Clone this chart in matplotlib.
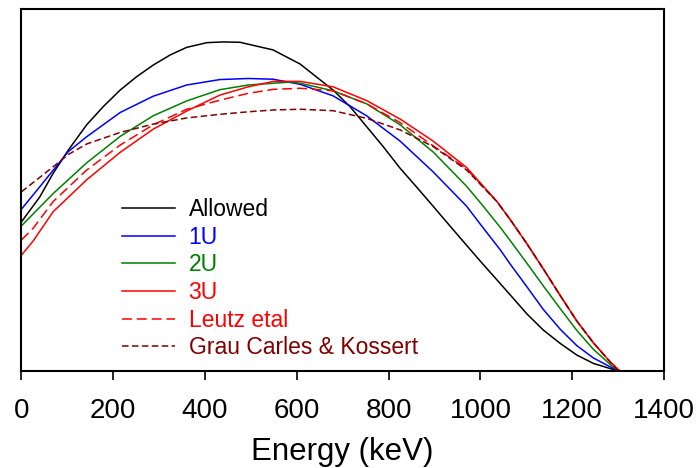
import matplotlib
matplotlib.use("Agg")
import matplotlib.pyplot as plt

plt.rcParams['font.family'] = ['Liberation Sans', 'DejaVu Sans']

# ---- data (y in arbitrary normalized units) ----
allowed_e = [0, 40, 69, 102, 142, 178, 215, 251, 287, 324, 360, 404, 440, 476, 548, 607, 650, 679, 716, 752, 788, 825, 861, 897, 934, 970, 1000, 1028, 1065, 1101, 1137, 1174, 1210, 1246, 1282, 1300]
allowed_y = [0.412, 0.481, 0.546, 0.61, 0.68, 0.73, 0.776, 0.813, 0.845, 0.873, 0.894, 0.907, 0.909, 0.908, 0.887, 0.848, 0.805, 0.776, 0.73, 0.675, 0.62, 0.56, 0.508, 0.455, 0.40, 0.347, 0.303, 0.263, 0.21, 0.158, 0.113, 0.076, 0.044, 0.021, 0.007, 0.0]

u1_e = [0, 40, 102, 142, 215, 287, 360, 432, 494, 548, 607, 679, 752, 825, 897, 970, 1000, 1043, 1065, 1101, 1137, 1174, 1210, 1246, 1282, 1300]
u1_y = [0.447, 0.509, 0.606, 0.647, 0.714, 0.759, 0.79, 0.805, 0.808, 0.806, 0.792, 0.76, 0.705, 0.635, 0.55, 0.455, 0.405, 0.335, 0.295, 0.233, 0.17, 0.115, 0.07, 0.036, 0.012, 0.0]

u2_e = [0, 69, 142, 215, 287, 360, 432, 494, 585, 607, 679, 752, 825, 897, 970, 1003, 1043, 1065, 1101, 1137, 1174, 1210, 1246, 1282, 1300]
u2_y = [0.401, 0.49, 0.575, 0.648, 0.705, 0.746, 0.777, 0.79, 0.798, 0.795, 0.774, 0.738, 0.68, 0.605, 0.51, 0.46, 0.397, 0.36, 0.298, 0.235, 0.172, 0.112, 0.06, 0.019, 0.0]

u3_e = [0, 26, 69, 142, 215, 287, 360, 432, 494, 549, 607, 679, 752, 825, 897, 970, 1036, 1065, 1101, 1137, 1174, 1210, 1246, 1282, 1304]
u3_y = [0.32, 0.36, 0.44, 0.528, 0.604, 0.668, 0.718, 0.762, 0.785, 0.80, 0.80, 0.785, 0.747, 0.696, 0.635, 0.562, 0.468, 0.418, 0.352, 0.282, 0.208, 0.138, 0.078, 0.026, 0.0]

leutz_e = [0, 26, 69, 142, 215, 287, 360, 432, 494, 549, 607, 679, 752, 825, 897, 970, 1036, 1065, 1101, 1137, 1174, 1210, 1246, 1282, 1304]
leutz_y = [0.362, 0.395, 0.468, 0.555, 0.624, 0.68, 0.723, 0.748, 0.767, 0.778, 0.781, 0.774, 0.738, 0.686, 0.622, 0.558, 0.468, 0.418, 0.352, 0.282, 0.208, 0.138, 0.078, 0.026, 0.0]

grau_e = [0, 69, 102, 142, 215, 287, 360, 432, 494, 549, 607, 679, 752, 825, 897, 970, 1036, 1065, 1101, 1137, 1174, 1210, 1246, 1282, 1300]
grau_y = [0.495, 0.564, 0.598, 0.627, 0.659, 0.682, 0.699, 0.709, 0.716, 0.721, 0.723, 0.719, 0.698, 0.666, 0.62, 0.555, 0.468, 0.418, 0.352, 0.282, 0.208, 0.138, 0.078, 0.026, 0.0]

x_ticks = [0, 200, 400, 600, 800, 1000, 1200, 1400]

# ---- figure ----
fig = plt.figure(figsize=(6.97, 4.68), dpi=100)
ax = fig.add_axes([0.0308, 0.2073, 0.9219, 0.7735])

lw = 1.1
ax.plot(allowed_e, allowed_y, color='black', lw=lw, label='Allowed')
ax.plot(u1_e, u1_y, color='blue', lw=lw, label='1U')
ax.plot(u2_e, u2_y, color='#008000', lw=lw, label='2U')
ax.plot(u3_e, u3_y, color='red', lw=lw, label='3U')
ax.plot(leutz_e, leutz_y, color='red', lw=lw, dashes=(6.5, 3.2), label='Leutz etal')
ax.plot(grau_e, grau_y, color='#800000', lw=lw, dashes=(4.3, 2.2), label='Grau Carles & Kossert')

ax.set_xlim(0, 1400)
ax.set_ylim(0, 1)
ax.set_xticks(x_ticks)
ax.set_xticklabels([str(t) for t in x_ticks])
ax.set_yticks([])
ax.tick_params(axis='x', direction='out', length=6.5, width=1.2, labelsize=20, pad=13)
for s in ax.spines.values():
    s.set_linewidth(1.5)
ax.set_xlabel('Energy (keV)', fontsize=22.5, labelpad=9)

leg = ax.legend(loc='upper left', bbox_to_anchor=(0.157, 0.477), frameon=False,
                fontsize=16.5, handlelength=2.31, handletextpad=0.58,
                labelspacing=0.2, borderpad=0, borderaxespad=0,
                labelcolor='linecolor')

fig.savefig('out.png', dpi=100)
